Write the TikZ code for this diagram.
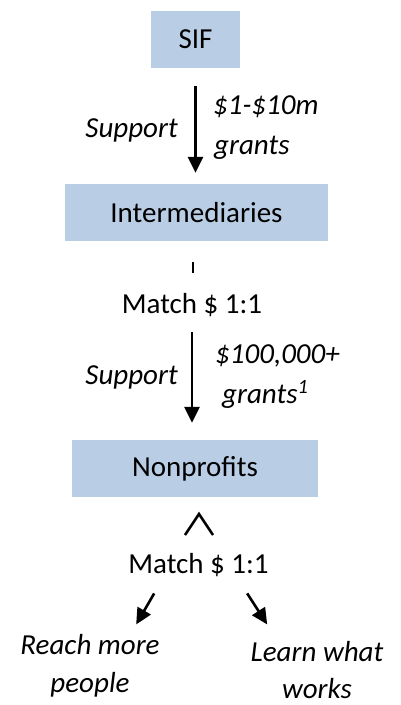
\documentclass[tikz,border=0pt]{standalone}
\usepackage{fontspec}
\setmainfont{Carlito}
\usetikzlibrary{arrows.meta}

\definecolor{boxblue}{RGB}{185,205,229}
\newcommand{\labelsize}{\fontsize{29}{40}\selectfont}

\tikzset{
  box/.style={fill=boxblue, minimum height=57pt, inner sep=0pt},
  txt/.style={inner sep=0pt},
  note/.style={inner sep=0pt, font=\labelsize\itshape},
  flow/.style={line width=2.6pt, -{Triangle[width=15pt,length=16pt]}},
}

\begin{document}
\begin{tikzpicture}[x=1pt,y=-1pt,font=\labelsize]
\useasboundingbox (0,0) rectangle (400,705);

% the three levels
\node[box, minimum width=89pt] (sif) at (195.5,39) {SIF};
\node[box, minimum width=263pt] (inter) at (196.5,212.5) {Intermediaries};
\node[box, minimum width=246pt] (nonp) at (195,468.5) {Nonprofits};

% SIF -> intermediaries
\draw[flow, shorten <=18pt, shorten >=11pt] (sif.south) -- (sif.south |- inter.north);
\node[note, anchor=base east] (sup1) at (178,137) {Support};
\node[note, anchor=base west] (amt1) at (213,114) {\$1-\$10m};
\node[note, anchor=base west] (gr1) at (214,154) {grants};

% intermediaries -> nonprofits
\draw[line width=2.6pt] (193,262) -- (193,273);
\node[txt, anchor=base] (match1) at (192,313) {Match \$ 1:1};
\draw[flow, shorten <=16pt, shorten >=17pt] (match1.south) -- (match1.south |- nonp.north);
\node[note, anchor=base east] (sup2) at (178,384) {Support};
\node[note, anchor=base west] (amt2) at (215,363) {\$100,000+};
\node[note, anchor=base west] (gr2) at (222,403) {grants\textsuperscript{1}};

% nonprofits
\draw[line width=2.6pt] (185,535) -- (199,514) -- (213,535);
\node[txt, anchor=base] (match2) at (198.5,573) {Match \$ 1:1};
\draw[flow] (match2.south west) ++(26,17) -- ++(-18,31);
\draw[flow] (match2.south west) ++(119,17) -- ++(20,31);
\node[note, anchor=base] (reach1) at (90,654) {Reach more};
\node[note, anchor=base] (reach2) at (90,692) {people};
\node[note, anchor=base] (learn1) at (317,661) {Learn what};
\node[note, anchor=base] (learn2) at (317,698) {works};
\end{tikzpicture}
\end{document}
